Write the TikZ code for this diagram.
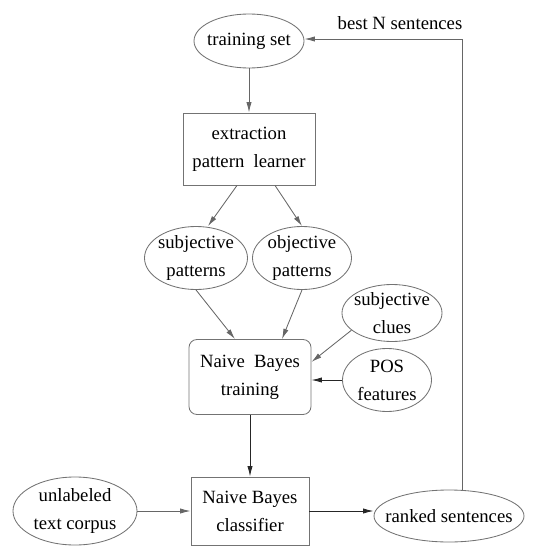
\documentclass[tikz,border=0pt]{standalone}
\usepackage{fontspec}
\setmainfont{Liberation Serif}
\usetikzlibrary{shapes.geometric, arrows.meta}

\begin{document}
\begin{tikzpicture}[
  font=\fontsize{13.3}{19.9}\selectfont,
  oval/.style={draw=black!55, ellipse, inner sep=-0.5cm, align=center, line width=0.6pt},
  box/.style={draw=black!55, rectangle, align=center, line width=0.6pt},
  arr/.style={-{Latex[length=2.6mm, width=1.3mm]}, draw=black!60, line width=0.6pt},
]
\useasboundingbox (0, 0) rectangle (13.3, -13.65);

\node[oval, minimum width=2.75cm, minimum height=1.35cm] (trainset) at (6.225, -1.025) {training set};
\node[box, minimum width=3.3cm, minimum height=1.8cm] (extract) at (6.225, -3.725) {extraction\\pattern\ \ learner};
\node[oval, minimum width=2.575cm, minimum height=1.575cm] (subj) at (4.9, -6.45) {subjective\\patterns};
\node[oval, minimum width=2.475cm, minimum height=1.575cm] (obj) at (7.55, -6.45) {objective\\patterns};
\node[box, rounded corners=0.2cm, minimum width=3.05cm, minimum height=1.875cm] (train) at (6.25, -9.425) {Naive\ \ Bayes\\training};
\node[oval, minimum width=2.5cm, minimum height=1.425cm] (clues) at (9.8, -7.825) {subjective\\clues};
\node[oval, minimum width=2.225cm, minimum height=1.575cm] (pos) at (9.675, -9.5) {POS\\features};
\node[box, minimum width=2.95cm, minimum height=1.7cm] (classif) at (6.25, -12.775) {Naive Bayes\\classifier};
\node[oval, minimum width=3.1cm, minimum height=1.7cm] (unlab) at (1.875, -12.775) {unlabeled\\text corpus};
\node[oval, minimum width=3.75cm, minimum height=1.3cm] (ranked) at (11.225, -12.9) {ranked sentences};
\node (bestn) at (10.0, -0.575) {best N sentences};
\coordinate (corner) at (11.55, -0.975);

\draw[arr] (trainset) -- (extract);
\draw[arr] ([xshift=-0.3cm]extract.south) -- ([xshift=0.3cm]subj.north);
\draw[arr] ([xshift=0.65cm]extract.south) -- (obj.north);
\draw[arr] (subj.south) -- ([xshift=-0.375cm]train.north);
\draw[arr] (obj.south) -- ([xshift=0.8cm]train.north);
\draw[arr] (clues.203) -- ([yshift=0.375cm]train.east);
\draw[arr, draw=black!85] (pos.west) -- (pos.west -| train.east);
\draw[arr, draw=black!85] (train) -- (classif);
\draw[arr] (unlab) -- (classif);
\draw[arr, draw=black!85] (classif.east) -- (classif.east -| ranked.west);
\draw[arr] (ranked.north -| corner) -- (corner) -- (corner -| trainset.east);

\end{tikzpicture}
\end{document}
